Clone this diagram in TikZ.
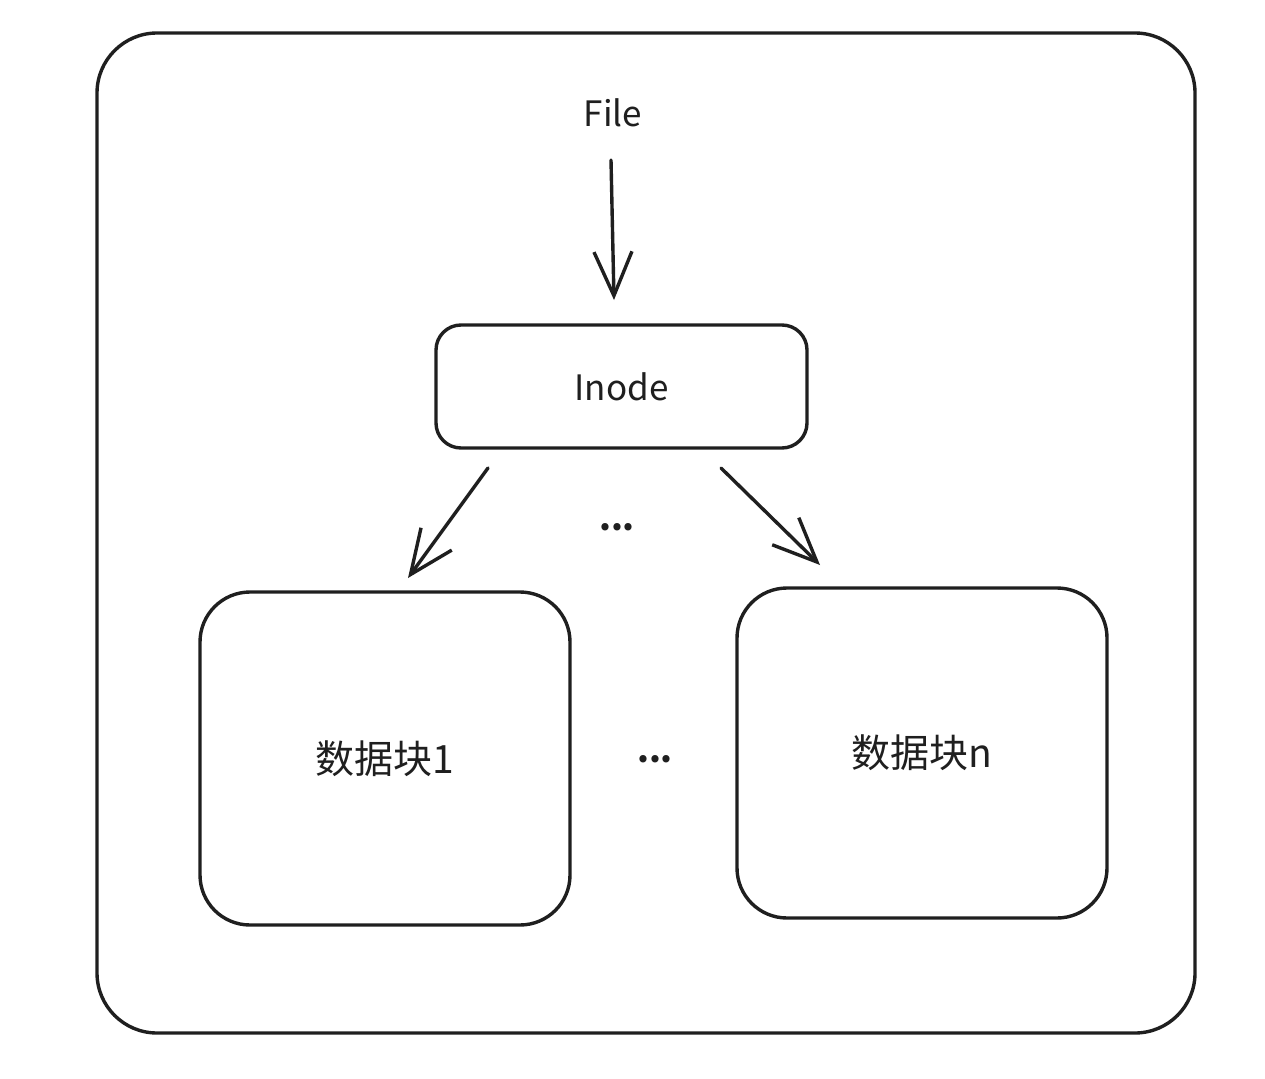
\documentclass[tikz,border=0pt]{standalone}
\usepackage{fontspec}
\setmainfont{Noto Sans CJK SC}
\usetikzlibrary{arrows.meta}
\tikzset{
  sk/.style={draw=black!88, line width=3.4pt, line cap=round, line join=round},
  frame/.style={sk, rounded corners=#1},
  lbl/.style={font=\fontsize{35}{38}\selectfont, text=black!88, inner sep=0pt},
  dotlbl/.style={font=\fontsize{34}{38}\selectfont\bfseries, text=black!88, inner sep=0pt},
  cjk/.style={font=\fontsize{39}{42}\selectfont, text=black!88, inner sep=0pt},
  arr/.style={sk, -{Straight Barb[length=44pt, width=38pt, line width=3.4pt]}}
}
\begin{document}
\begin{tikzpicture}[x=1pt, y=-1pt]
\useasboundingbox (0,0) rectangle (1265,1078);
\fill[white] (0,0) rectangle (1265,1078);
% outer frame
\draw[frame=60pt] (97,33) rectangle (1195,1033);
% nodes
\node[lbl] (file) at (613,113) {File};
\node[frame=25pt, minimum width=371pt, minimum height=123pt, lbl, inner sep=0pt] (inode) at (621.5,386.5) {Inode};
\node[dotlbl] (dots1) at (617,527) {...};
\node[frame=50pt, minimum width=370pt, minimum height=333pt, cjk] (b1) at (385,758.5) {数据块1};
\node[frame=50pt, minimum width=370pt, minimum height=330pt, cjk] (bn) at (922,753) {数据块n};
\node[dotlbl] (dots2) at (655,759) {...};
% arrow end coordinates
\coordinate (a1s) at (611,160);
\coordinate (a1e) at (614,300);
\coordinate (a2s) at (488,468);
\coordinate (a2e) at (408,578);
\coordinate (a3s) at (721,468);
\coordinate (a3e) at (820,565);
\draw[arr] (a1s) -- (a1e);
\draw[arr] (a2s) -- (a2e);
\draw[arr] (a3s) -- (a3e);
\end{tikzpicture}
\end{document}
